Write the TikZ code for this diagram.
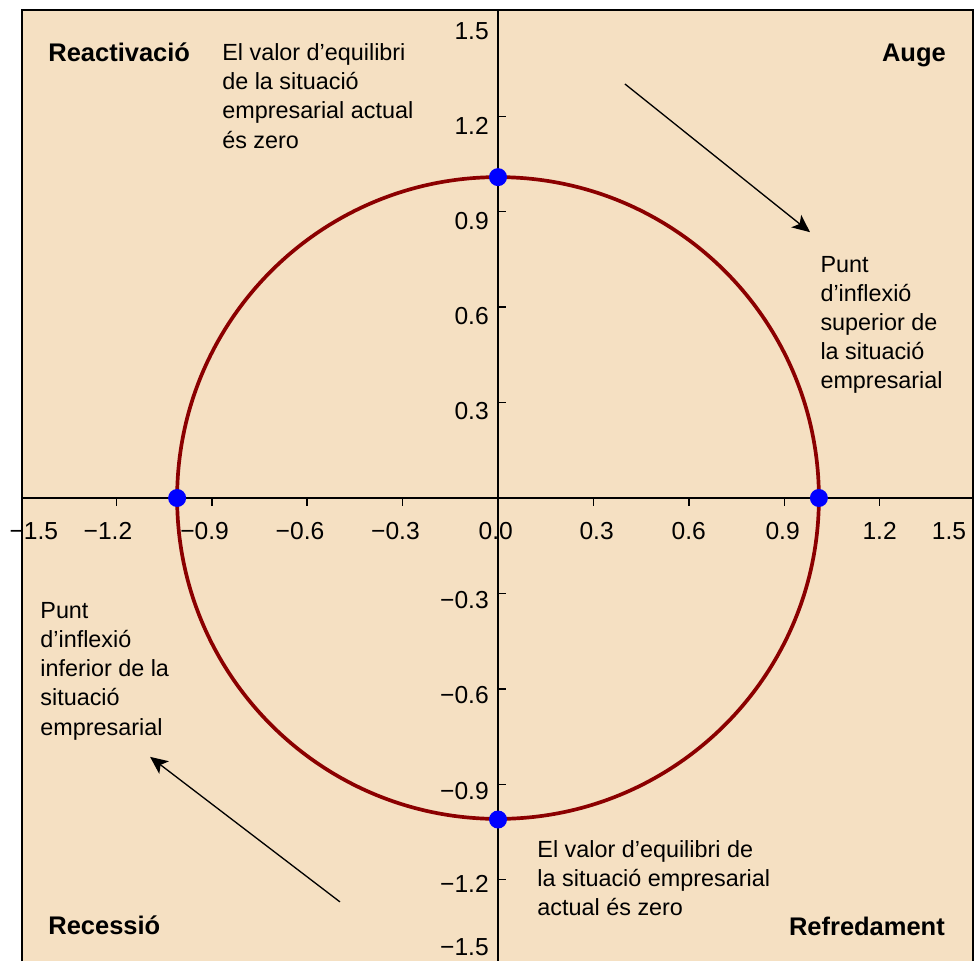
\documentclass[tikz,border=0pt]{standalone}
\usepackage{fontspec}
\setmainfont{Liberation Sans}
\usetikzlibrary{arrows.meta}
\definecolor{panelbg}{RGB}{245,224,194}
\definecolor{cyclered}{RGB}{139,0,0}

\begin{document}
\begin{tikzpicture}[x=6.36cm,y=6.36cm,>={Stealth[length=10pt,width=9pt,inset=2.5pt]},
  every node/.style={inner sep=0pt,font=\fontsize{13.3}{16.6}\selectfont},
  phase/.style={font=\fontsize{14.5}{17}\selectfont\bfseries},
  note/.style={align=left,anchor=north west},
  tick/.style={font=\fontsize{14}{17}\selectfont},
  ylab/.style={tick,anchor=east},
  dot/.style={circle,fill=blue,minimum size=3.6mm}]
\useasboundingbox (-1.566,-1.456) rectangle (1.503,1.566);
\fill[panelbg] (-1.497,-1.456) rectangle (1.494,1.535);
\draw[line width=1.3pt] (-1.497,-1.456) -- (-1.497,1.535) -- (1.494,1.535) -- (1.494,-1.456);
% axes
\draw[line width=0.8pt] (-1.497,0) -- (1.494,0); \draw[line width=0.8pt] (0,1.53) -- (0,-1.456);
\draw[line width=0.8pt] (-1.2,0) -- ++(0,-0.025) (-0.9,0) -- ++(0,-0.025) (-0.6,0) -- ++(0,-0.025) (-0.3,0) -- ++(0,-0.025)
  (0.3,0) -- ++(0,-0.025) (0.6,0) -- ++(0,-0.025) (0.9,0) -- ++(0,-0.025) (1.2,0) -- ++(0,-0.025)
  (0,1.2) -- ++(0.025,0) (0,0.9) -- ++(0.025,0) (0,0.6) -- ++(0.025,0) (0,0.3) -- ++(0.025,0)
  (0,-0.3) -- ++(0.025,0) (0,-0.6) -- ++(0.025,0) (0,-0.9) -- ++(0.025,0) (0,-1.2) -- ++(0.025,0);
\node[tick] (xm15) at (-1.437,-0.104) {\llap{−}1.5}; \node[tick] (xm12) at (-1.204,-0.104) {\llap{−}1.2};
\node[tick] (xm09) at (-0.9,-0.104) {\llap{−}0.9}; \node[tick] (xm06) at (-0.6,-0.104) {\llap{−}0.6};
\node[tick] (xm03) at (-0.3,-0.104) {\llap{−}0.3}; \node[tick] (x00) at (-0.007,-0.104) {0.0};
\node[tick] (x03) at (0.31,-0.104) {0.3}; \node[tick] (x06) at (0.6,-0.104) {0.6};
\node[tick] (x09) at (0.895,-0.104) {0.9}; \node[tick] (x12) at (1.2,-0.104) {1.2}; \node[tick] (x15) at (1.418,-0.104) {1.5};
\node[ylab] (y15) at (-0.028,1.467) {1.5}; \node[ylab] (y12) at (-0.028,1.169) {1.2};
\node[ylab] (y09) at (-0.028,0.872) {0.9}; \node[ylab] (y06) at (-0.028,0.572) {0.6}; \node[ylab] (y03) at (-0.028,0.272) {0.3};
\node[ylab] (ym03) at (-0.028,-0.321) {−0.3}; \node[ylab] (ym06) at (-0.028,-0.620) {−0.6};
\node[ylab] (ym09) at (-0.028,-0.921) {−0.9}; \node[ylab] (ym12) at (-0.028,-1.215) {−1.2}; \node[ylab] (ym15) at (-0.028,-1.412) {−1.5};
% cycle
\draw[cyclered,line width=2.1pt] (0,0) circle (1.009);
\node[dot] (top) at (0,1.009) {}; \node[dot] (right) at (1.009,0) {}; \node[dot] (bottom) at (0,-1.011) {}; \node[dot] (left) at (-1.009,0) {};
% phases
\node[phase,anchor=base west] (react) at (-1.415,1.374) {Reactivació}; \node[phase,anchor=base east] (auge) at (1.409,1.374) {Auge};
\node[phase,anchor=base west] (recess) at (-1.415,-1.374) {Recessió}; \node[phase,anchor=base east] (refred) at (1.406,-1.377) {Refredament};
\node[note] (eqtop) at (-0.868,1.430) {El valor d’equilibri\\de la situació\\empresarial actual\\és zero};
\node[note] (infsup) at (1.013,0.762) {Punt\\d’inflexió\\superior de\\la situació\\empresarial};
\node[note] (infinf) at (-1.440,-0.327) {Punt\\d’inflexió\\inferior de la\\situació\\empresarial};
\node[note] (eqbot) at (0.123,-1.076) {El valor d’equilibri de\\la situació empresarial\\actual és zero};
% arrows
\coordinate (a1) at (0.399,1.302); \coordinate (a2) at (0.981,0.836); \coordinate (b1) at (-0.497,-1.270); \coordinate (b2) at (-1.094,-0.814);
\draw[->,line width=0.75pt] (a1) -- (a2); \draw[->,line width=0.75pt] (b1) -- (b2);
\end{tikzpicture}
\end{document}
